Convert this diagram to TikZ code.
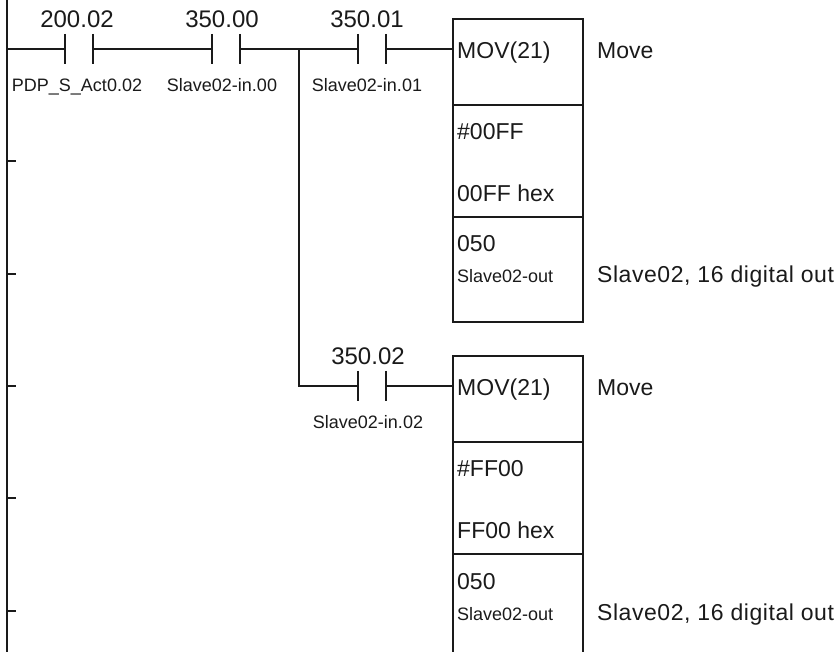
\documentclass[tikz,border=0pt]{standalone}
\usepackage{fontspec}
\setmainfont{Liberation Sans}
\usetikzlibrary{calc, positioning}
\definecolor{wireColor}{HTML}{1A1A1A}
\tikzset{
    wire/.style={wireColor, line width=1.1pt},
    addr/.style={inner sep=0pt, text=wireColor, font=\fontsize{24}{24}\selectfont, anchor=base},
    sym/.style={inner sep=0pt, text=wireColor, font=\fontsize{18}{18}\selectfont, anchor=base},
    boxtext/.style={inner sep=0pt, text=wireColor, font=\fontsize{23}{23}\selectfont, anchor=base west},
    boxsmall/.style={inner sep=0pt, text=wireColor, font=\fontsize{18}{18}\selectfont, anchor=base west},
    outtext/.style={inner sep=0pt, text=wireColor, font=\fontsize{23}{23}\selectfont\addfontfeatures{LetterSpace=2.4}, anchor=base west},
}
\newcommand{\contact}[6]{% name, x, y, label x, address, symbol
    \coordinate (#1l) at (#2,#3);
    \coordinate (#1r) at (#2+28,#3);
    \draw[wire] (#2,#3-15) -- (#2,#3+15);
    \draw[wire] (#2+28,#3-15) -- (#2+28,#3+15);
    \node[addr] (#1addr) at (#4,#3-21) {#5};
    \node[sym] (#1sym) at (#4,#3+43) {#6};
}
\begin{document}
\begin{tikzpicture}[x=1pt, y=-1pt]
    \useasboundingbox (0,0) rectangle (839,652);
    % left rail
    \draw[wire] (7,0) -- (7,652);
    \foreach \y in {161,274,386,498,611}
        \draw[wire] (7,\y) -- (16,\y);
    % first rung
    \contact{a}{65}{49}{77}{200.02}{PDP\_S\_Act0.02}
    \contact{b}{212}{49}{222}{350.00}{Slave02-in.00}
    \contact{c}{358}{49}{367}{350.01}{Slave02-in.01}
    \contact{d}{358}{386}{368}{350.02}{Slave02-in.02}
    \coordinate (rail1) at (7,49);
    \coordinate (fork) at (299,49);
    \coordinate (fork2) at (299,386);
    % MOV boxes
    \foreach \n/\ytop/\ybot/\src/\srctxt in {p/19/322/\#00FF/00FF hex, q/356/659/\#FF00/FF00 hex} {
        \draw[wire] (453,\ybot) -- (453,\ytop) -- (583,\ytop) -- (583,\ybot) -- cycle;
        \draw[wire] (453,\ytop+86) -- (583,\ytop+86);
        \draw[wire] (453,\ytop+198) -- (583,\ytop+198);
        \coordinate (\n-in) at (453,\ytop+30);
        \node[boxtext] (\n-op) at (457,\ytop+40) {MOV(21)};
        \node[boxtext] (\n-src) at (457,\ytop+121) {\src};
        \node[boxtext] (\n-txt) at (457,\ytop+183) {\srctxt};
        \node[boxtext] (\n-dst) at (457,\ytop+233) {050};
        \node[boxsmall] (\n-sym) at (457,\ytop+264) {Slave02-out};
        \node[boxtext] (\n-note) at (597,\ytop+40) {Move};
        \node[outtext] (\n-out) at (597,\ytop+264) {Slave02, 16 digital out};
    }
    % connections
    \draw[wire] (rail1) -- (al);
    \draw[wire] (ar) -- (bl);
    \draw[wire] (br) -- (cl);
    \draw[wire] (cr) -- (p-in);
    \draw[wire] (fork) -- (fork2) -- (dl);
    \draw[wire] (dr) -- (q-in);
\end{tikzpicture}
\end{document}
